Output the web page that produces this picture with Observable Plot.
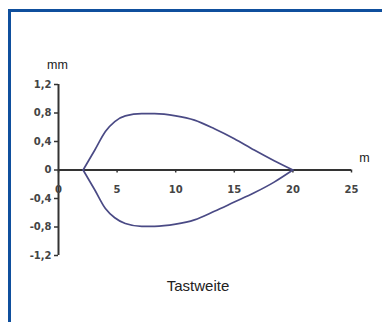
<!DOCTYPE html>
<html>
<head>
<meta charset="utf-8">
<script src="https://cdn.jsdelivr.net/npm/d3@7"></script>
<script src="https://cdn.jsdelivr.net/npm/@observablehq/plot@0.6"></script>
<style>
  html, body { margin: 0; padding: 0; background: #fff; }
  #wrap { position: relative; width: 382px; height: 322px; overflow: hidden; }
  #frame { position: absolute; left: 8px; top: 9px; right: 0; bottom: 0;
           border-top: 3px solid #0f4f9d; border-left: 3px solid #0f4f9d; pointer-events: none; }
  #wrap svg { position: absolute; left: 0; top: 0; }
</style>
</head>
<body>
<div id="wrap"><div id="frame"></div></div>
<script>
// Upper lobe (x in m, y in mm)
const xUpper = [2.1, 3.1, 4.0, 4.8, 5.7, 7.1, 8.2, 10.0, 11.6, 13.3, 15.0, 16.7, 18.4, 20.0];
const yUpper = [0, 0.28, 0.54, 0.68, 0.76, 0.79, 0.79, 0.76, 0.70, 0.58, 0.44, 0.28, 0.13, 0];
// Lower lobe
const xLower = [2.1, 3.1, 4.0, 4.8, 5.7, 7.1, 8.2, 10.0, 11.6, 13.3, 15.0, 16.7, 18.4, 20.0];
const yLower = [0, -0.28, -0.54, -0.67, -0.75, -0.79, -0.79, -0.76, -0.70, -0.58, -0.45, -0.32, -0.17, 0];

const xTicks = [0, 5, 10, 15, 20, 25];
const xTickLabels = ["0", "5", "10", "15", "20", "25"];
const yTicks = [1.2, 0.8, 0.4, 0, -0.4, -0.8, -1.2];
const yTickLabels = ["1,2", "0,8", "0,4", "0", "-0,4", "-0,8", "-1,2"];

const xUnit = "m";
const yUnit = "mm";
const title = "Tastweite";

const upper = xUpper.map((x, i) => ({x, y: yUpper[i], s: "upper"}));
const lower = xLower.map((x, i) => ({x, y: yLower[i], s: "lower"}));
const curve = upper.concat(lower);

const axisColor = "#333";
const tickFont = "'DejaVu Sans', sans-serif";
const textFont = "'Liberation Sans', Arial, sans-serif";

const chart = Plot.plot({
  width: 382,
  height: 322,
  marginLeft: 58,
  marginRight: 31,
  marginTop: 84,
  marginBottom: 67,
  x: {domain: [0, 25], axis: null},
  y: {domain: [-1.2, 1.2], axis: null},
  style: {background: "transparent", overflow: "visible"},
  marks: [
    // y axis ticks and labels
    Plot.axisY(yTicks, {
      anchor: "left",
      tickSize: 4,
      tickPadding: 3,
      stroke: axisColor,
      strokeWidth: 1.5,
      fill: "#444",
      fontFamily: tickFont,
      fontWeight: "bold",
      fontSize: 10,
      label: null,
      tickFormat: d => yTickLabels[yTicks.indexOf(d)]
    }),
    // y axis line
    Plot.ruleX([0], {y1: -1.2, y2: 1.2, stroke: axisColor, strokeWidth: 2}),
    // x axis line at y = 0
    Plot.ruleY([0], {x1: 0, x2: 25, stroke: axisColor, strokeWidth: 2}),
    // x ticks (downward)
    Plot.ruleX(xTicks, {x: d => d, y1: 0, y2: 0, insetBottom: -3, stroke: axisColor, strokeWidth: 1.5}),
    // x tick labels
    Plot.text(xTicks, {
      x: d => d, y: 0,
      text: d => xTickLabels[xTicks.indexOf(d)],
      dy: 20,
      lineAnchor: "middle",
      fill: "#444",
      fontFamily: tickFont,
      fontWeight: "bold",
      fontSize: 10
    }),
    // curves
    Plot.line(curve, {x: "x", y: "y", z: "s", curve: "monotone-x", stroke: "#4a4a85", strokeWidth: 1.7}),
    // unit labels
    Plot.text([yUnit], {frameAnchor: "top-left", dx: -1, dy: -20, lineAnchor: "middle", textAnchor: "middle",
      fontFamily: textFont, fontSize: 12.5, fill: "#222"}),
    Plot.text([xUnit], {frameAnchor: "right", dx: 13, dy: -12, lineAnchor: "middle", textAnchor: "middle",
      fontFamily: textFont, fontSize: 12.5, fill: "#222"}),
    // title below
    Plot.text([title], {frameAnchor: "bottom", dx: -7, dy: 31, lineAnchor: "middle", textAnchor: "middle",
      fontFamily: textFont, fontSize: 15, fill: "#222"})
  ]
});

document.getElementById("wrap").insertBefore(chart, document.getElementById("frame"));
</script>
</body>
</html>
